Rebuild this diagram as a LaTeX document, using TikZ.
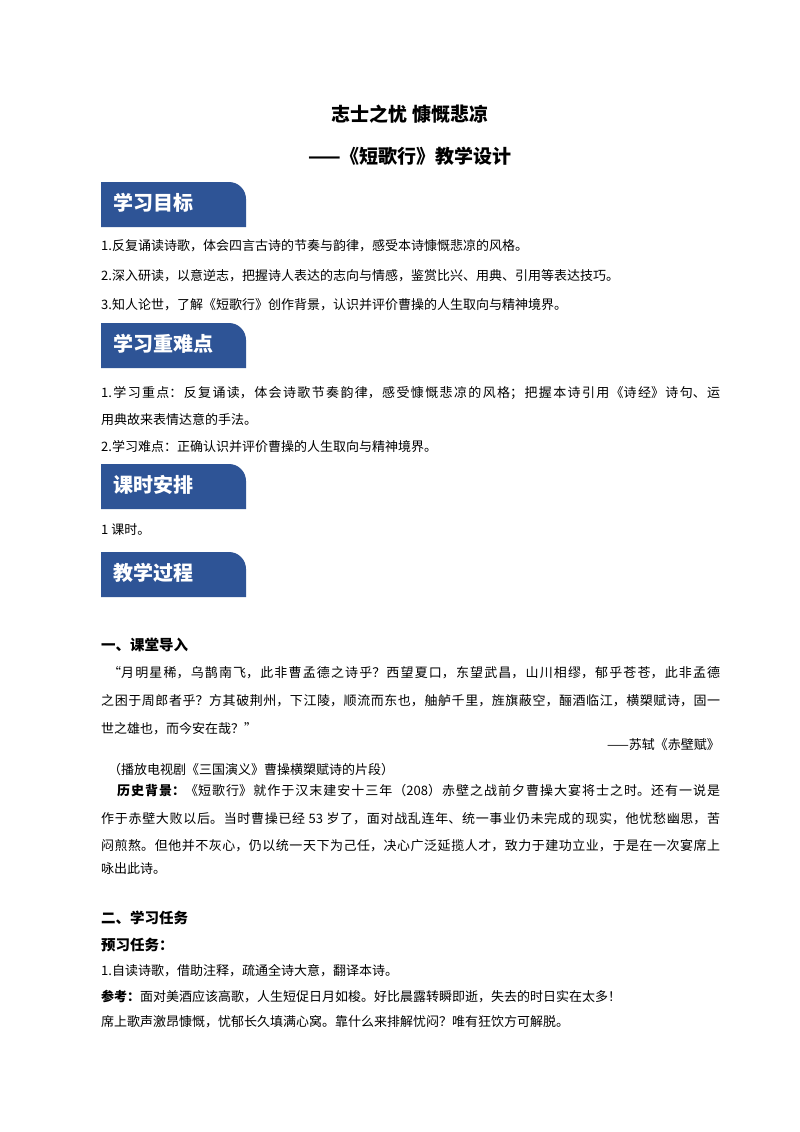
\documentclass[tikz,border=0pt]{standalone}
\usepackage{fontspec}
\setmainfont{Noto Sans CJK SC}
\XeTeXlinebreaklocale "zh"
\XeTeXlinebreakskip=0pt plus 2pt minus 0.6pt
\definecolor{tabblue}{HTML}{2E5496}
\newcommand\fl[1]{\parbox{619pt}{\parfillskip=0pt\emergencystretch=20pt\relax #1}}
\begin{document}
\begin{tikzpicture}[x=1pt,y=-1pt,
 txt/.style={anchor=west,inner sep=0pt,font=\fontsize{13}{16}\selectfont},
 tabtxt/.style={anchor=west,inner sep=0pt,text=white,font=\fontsize{20}{24}\selectfont\bfseries},
 head/.style={anchor=west,inner sep=0pt,font=\fontsize{14.5}{17}\selectfont\bfseries}]
\useasboundingbox[fill=white] (0,0) rectangle (800,1132);
\node[anchor=center,font=\fontsize{19}{23}\selectfont\bfseries] (t1) at (410,114) {志士之忧\ 慷慨悲凉};
\node[anchor=center,font=\fontsize{19}{23}\selectfont\bfseries] (t2) at (410,156) {——《短歌行》教学设计};
\foreach \y/\n/\t in {182/a/学习目标,323/b/学习重难点,464/c/课时安排,552/d/教学过程}{
 \fill[tabblue] (101,\y+45) -- (101,\y) [rounded corners=17] -- (246,\y) [sharp corners] -- (246,\y+45) -- cycle;
 \node[tabtxt] (tab\n) at (113,\y+21) {\t};
}
\node[txt] (l1) at (101,246) {1.反复诵读诗歌，体会四言古诗的节奏与韵律，感受本诗慷慨悲凉的风格。};
\node[txt] (l2) at (101,276) {2.深入研读，以意逆志，把握诗人表达的志向与情感，鉴赏比兴、用典、引用等表达技巧。};
\node[txt] (l3) at (101,305) {3.知人论世，了解《短歌行》创作背景，认识并评价曹操的人生取向与精神境界。};
\node[txt] (m1) at (101,393) {\fl{1.学习重点：反复诵读，体会诗歌节奏韵律，感受慷慨悲凉的风格；把握本诗引用《诗经》诗句、运}};
\node[txt] (m2) at (101,420) {用典故来表情达意的手法。};
\node[txt] (m3) at (101,447) {2.学习难点：正确认识并评价曹操的人生取向与精神境界。};
\node[txt] (k1) at (101,530) {1 课时。};
\node[head] (h1) at (101,645) {一、课堂导入};
\node[txt] (q1) at (101,673) {\fl{\hspace*{7pt}“月明星稀，乌鹊南飞，此非曹孟德之诗乎？西望夏口，东望武昌，山川相缪，郁乎苍苍，此非孟德}};
\node[txt] (q2) at (101,701) {\fl{之困于周郎者乎？方其破荆州，下江陵，顺流而东也，舳舻千里，旌旗蔽空，酾酒临江，横槊赋诗，固一}};
\node[txt] (q3) at (101,729) {世之雄也，而今安在哉？”};
\node[txt,anchor=east] (q4) at (720,745) {——苏轼《赤壁赋》};
\node[txt] (p1) at (108,770) {（播放电视剧《三国演义》曹操横槊赋诗的片段）};
\node[txt] (p2) at (101,791) {\fl{\hspace*{16pt}\textbf{历史背景：}《短歌行》就作于汉末建安十三年（208）赤壁之战前夕曹操大宴将士之时。还有一说是}};
\node[txt] (p3) at (101,819) {\fl{作于赤壁大败以后。当时曹操已经\ 53\ 岁了，面对战乱连年、统一事业仍未完成的现实，他忧愁幽思，苦}};
\node[txt] (p4) at (101,846) {\fl{闷煎熬。但他并不灰心，仍以统一天下为己任，决心广泛延揽人才，致力于建功立业，于是在一次宴席上}};
\node[txt] (p5) at (101,869) {咏出此诗。};
\node[head] (h2) at (101,918) {二、学习任务};
\node[head] (h3) at (101,945) {预习任务：};
\node[txt] (r1) at (101,971) {1.自读诗歌，借助注释，疏通全诗大意，翻译本诗。};
\node[txt] (r2) at (101,997) {\textbf{参考：}面对美酒应该高歌，人生短促日月如梭。好比晨露转瞬即逝，失去的时日实在太多！};
\node[txt] (r3) at (101,1022) {席上歌声激昂慷慨，忧郁长久填满心窝。靠什么来排解忧闷？唯有狂饮方可解脱。};
\end{tikzpicture}
\end{document}
